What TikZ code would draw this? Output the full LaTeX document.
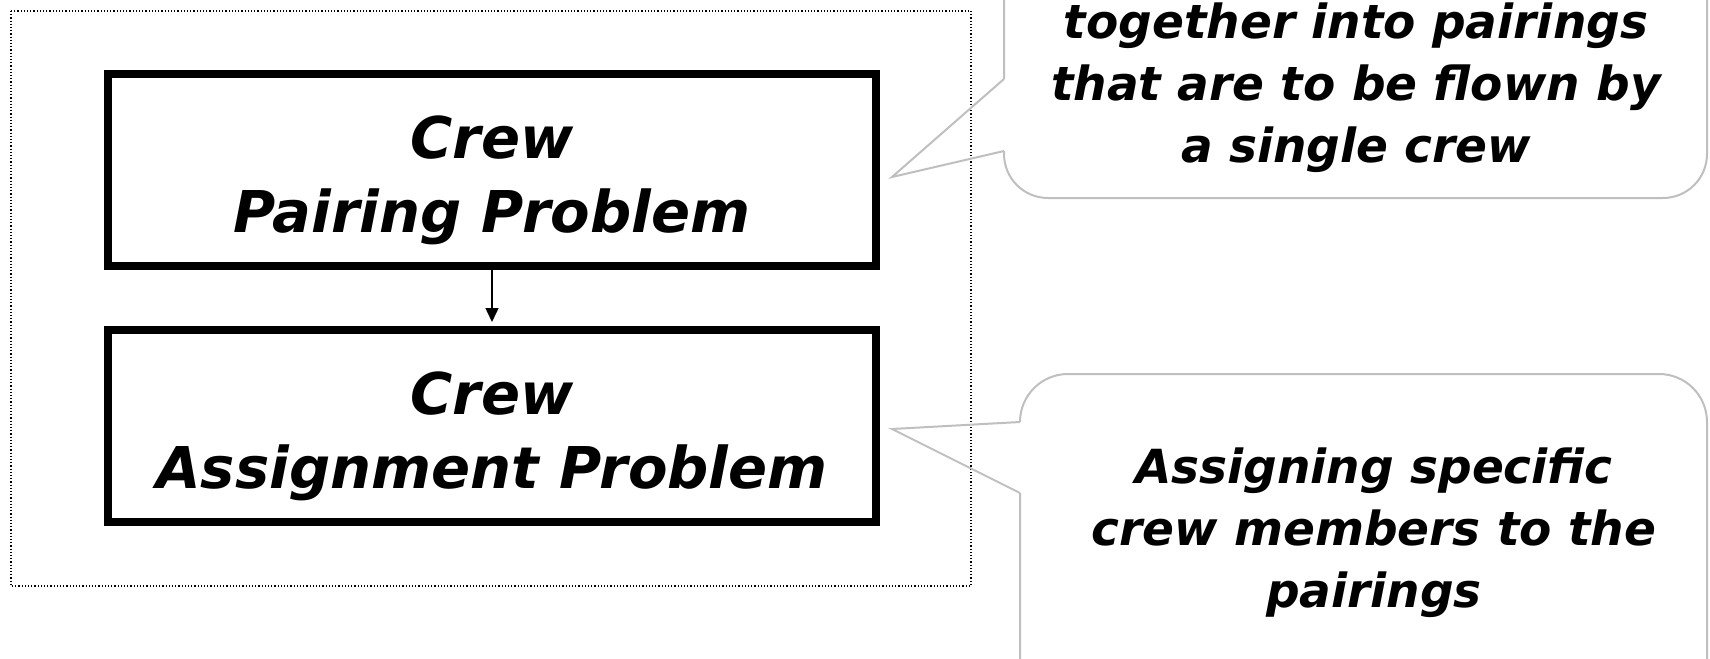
\documentclass[tikz,border=0pt]{standalone}
\usepackage{fontspec}
\setmainfont{DejaVu Sans}
\usepackage{tikz}
\usetikzlibrary{arrows.meta}

\tikzset{
  probbox/.style={draw, line width=4pt, minimum width=384pt, minimum height=96pt,
    align=center, text height=68pt, text depth=6pt,
    font=\fontsize{28.8}{37}\selectfont\bfseries\itshape},
  bubble/.style={draw=black!25, line width=1pt},
  bubbletext/.style={align=center, font=\fontsize{23.5}{31}\selectfont\bfseries\itshape}
}

\begin{document}
\begin{tikzpicture}[x=0.5pt,y=-0.5pt]
\useasboundingbox (0,0) rectangle (1710,659);
\clip (0,0) rectangle (1710,659);
% frame round the two problems
\draw[densely dotted, line width=0.6pt] (11,11) rectangle (971,586);
\node[probbox] (pairing) at (492,170) {Crew\\Pairing Problem};
\node[probbox] (assignment) at (492,426) {Crew\\Assignment Problem};
\draw[-{Triangle[width=6.5pt,length=7pt]}, line width=0.75pt, shorten >=2pt] (pairing.south) -- (assignment.north);
% callouts
\draw[bubble, rounded corners=22pt] (1004,151) -- (1004,198) -- (1707,198) -- (1707,-100) -- (1004,-100) -- (1004,79);
\draw[bubble] (1004,79) -- (892,177) -- (1004,151);
\node[bubbletext] (pairnote) at (1356,88) {together into pairings\\that are to be flown by\\a single crew};
\draw[bubble, rounded corners=24pt] (1020,422) -- (1020,374) -- (1707,374) -- (1707,760) -- (1020,760) -- (1020,493);
\draw[bubble] (1020,422) -- (892,429) -- (1020,493);
\node[bubbletext] (assignnote) at (1374,533) {Assigning specific\\crew members to the\\pairings};
\end{tikzpicture}
\end{document}
